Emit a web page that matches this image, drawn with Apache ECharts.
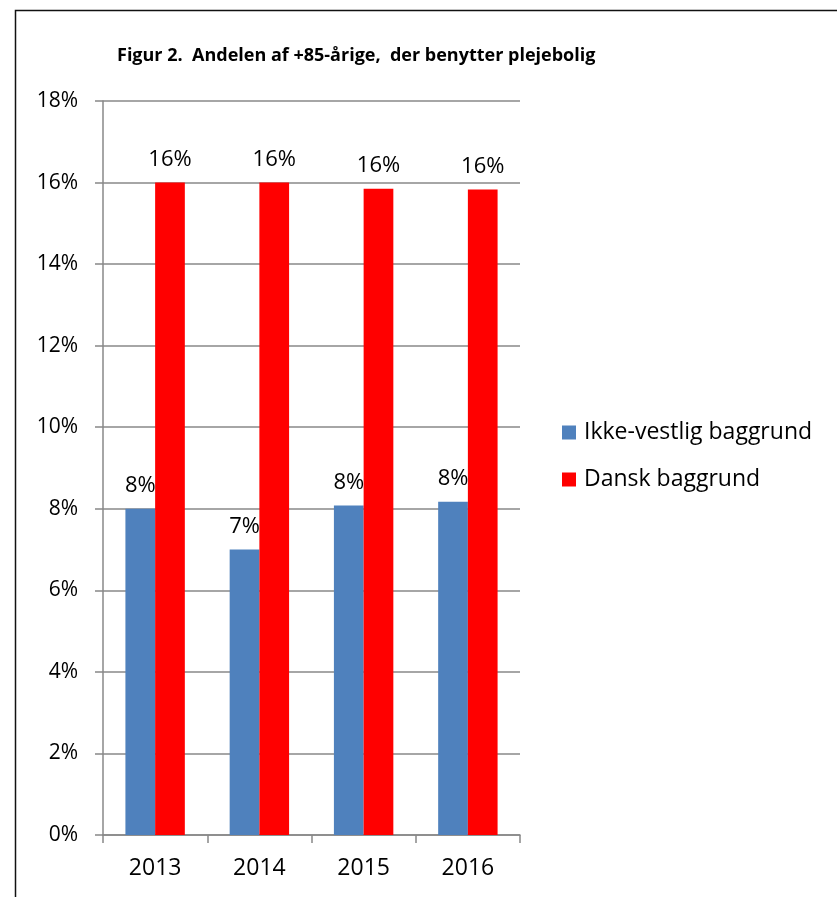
<!DOCTYPE html>
<html>
<head>
<meta charset="utf-8">
<script src="https://cdn.jsdelivr.net/npm/echarts@6/dist/echarts.min.js"></script>
<style>
html,body{margin:0;padding:0;background:#fff;}
#chart{width:837px;height:897px;}
</style>
</head>
<body>
<div id="chart"></div>
<script>
const categories = ['2013', '2014', '2015', '2016'];
const ikkeVestlig = [8.0, 7.0, 8.08, 8.17];
const dansk = [16.0, 16.0, 15.85, 15.83];
const titleText = 'Figur 2.  Andelen af +85-årige,  der benytter plejebolig';
const seriesNames = ['Ikke-vestlig baggrund', 'Dansk baggrund'];

const chart = echarts.init(document.getElementById('chart'));
const font = 'Open Sans, Noto Sans, sans-serif';
const labelCfg = {
  show: true, position: 'top', distance: 12,
  color: '#000', fontSize: 22, fontFamily: font,
  formatter: p => Math.round(p.value) + '%'
};
chart.setOption({
  animation: false,
  title: {
    text: titleText, left: 112, top: 42,
    textStyle: { fontFamily: font, fontSize: 18, fontWeight: 'bold', color: '#000' }
  },
  graphic: [{
    type: 'polyline', shape: { points: [[15.5, 897], [15.5, 10.5], [837, 10.5]] },
    style: { stroke: '#111', lineWidth: 1.5, fill: null }
  }],
  legend: {
    orient: 'vertical', left: 562, top: 421, itemGap: 24, padding: 0,
    itemWidth: 14, itemHeight: 14, icon: 'rect',
    textStyle: { fontFamily: font, fontSize: 23, color: '#000', padding: [0, 0, 0, 3] },
    data: seriesNames
  },
  grid: { left: 103, top: 101, right: 317, bottom: 62 },
  xAxis: {
    type: 'category', data: categories,
    axisLine: { lineStyle: { color: '#888', width: 1.5 } },
    axisTick: { show: true, length: 8, lineStyle: { color: '#888', width: 1.5 } },
    axisLabel: { color: '#000', fontSize: 23, fontFamily: font, margin: 22 }
  },
  yAxis: {
    type: 'value', min: 0, max: 18, interval: 2,
    axisLine: { show: true, lineStyle: { color: '#888', width: 1.5 } },
    axisTick: { show: true, length: 8, lineStyle: { color: '#888', width: 1.5 } },
    splitLine: { lineStyle: { color: '#888', width: 1.5 } },
    axisLabel: { color: '#000', fontSize: 21, fontFamily: font, margin: 25,
      formatter: v => v + '%' }
  },
  series: [
    { name: seriesNames[0], type: 'bar', data: ikkeVestlig, barGap: '0%', barCategoryGap: '43%',
      itemStyle: { color: '#4F81BD' }, label: labelCfg },
    { name: seriesNames[1], type: 'bar', data: dansk, barGap: '0%', barCategoryGap: '43%',
      itemStyle: { color: '#FF0000' }, label: labelCfg }
  ]
});
</script>
</body>
</html>
